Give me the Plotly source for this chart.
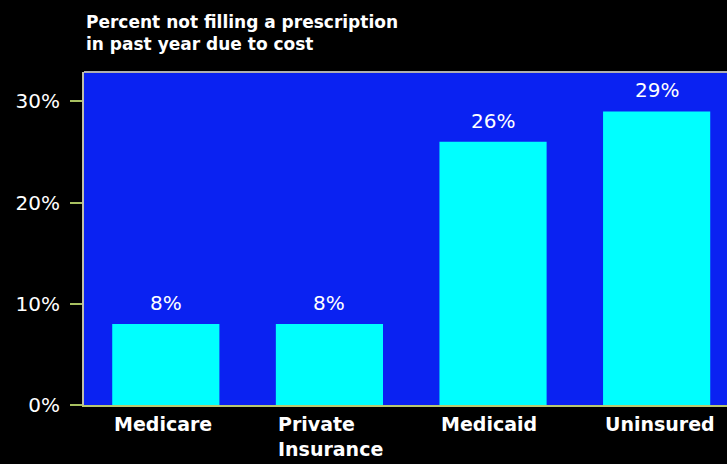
import plotly.graph_objects as go

categories = ["Medicare", "Private<br>Insurance", "Medicaid", "Uninsured"]
percent_values = [8, 8, 26, 29]
y_tick_values = [0, 10, 20, 30]
y_tick_labels = ["0%", "10%", "20%", "30%"]
title_text = "Percent not filling a prescription<br>in past year due to cost"

BAR_WIDTH = 0.655
FONT = "DejaVu Sans"
x_pos = list(range(len(categories)))

fig = go.Figure(
    go.Bar(
        x=x_pos,
        y=percent_values,
        width=BAR_WIDTH,
        marker=dict(color="#00FFFF", line=dict(width=0)),
        hoverinfo="skip",
    )
)

annotations = []
# value labels above each bar
for xi, v in zip(x_pos, percent_values):
    annotations.append(dict(
        x=xi, y=v, xref="x", yref="y", text=f"{v}%", showarrow=False,
        xanchor="center", yanchor="bottom", yshift=7,
        font=dict(family=FONT, size=20, color="white"),
    ))
# category labels, left aligned with each bar
for xi, c in zip(x_pos, categories):
    annotations.append(dict(
        x=xi - BAR_WIDTH / 2, y=0, xref="x", yref="y", text=c, showarrow=False,
        xanchor="left", yanchor="top", align="left", yshift=-6,
        font=dict(family=FONT, size=19, color="white", weight="bold"),
    ))
# title
annotations.append(dict(
    x=0, y=1, xref="paper", yref="paper", text=title_text, showarrow=False,
    xanchor="left", yanchor="bottom", align="left", yshift=16,
    font=dict(family=FONT, size=17, color="white", weight="bold"),
))

fig.update_layout(
    width=727, height=464,
    margin=dict(l=84, r=0, t=72, b=59),
    paper_bgcolor="black",
    plot_bgcolor="#0A22F2",
    showlegend=False,
    annotations=annotations,
    xaxis=dict(
        range=[-0.5, 3.43], showticklabels=False, showgrid=False, zeroline=False,
        showline=True, linecolor="#B8C870", linewidth=2, mirror=False, fixedrange=True,
    ),
    yaxis=dict(
        range=[0, 32.9], tickvals=y_tick_values, ticktext=y_tick_labels,
        showgrid=False, zeroline=False, showline=True, linecolor="#C0C0A8", linewidth=2,
        ticks="outside", ticklen=12, tickwidth=2, tickcolor="#A8C060",
        ticklabelstandoff=6,
        tickfont=dict(family=FONT, size=20, color="white"),
        fixedrange=True,
    ),
    shapes=[dict(type="line", xref="paper", yref="paper", x0=0, x1=1, y0=1, y1=1,
                 line=dict(color="#B0B0B0", width=2))],
)

fig.write_html("out.html")
